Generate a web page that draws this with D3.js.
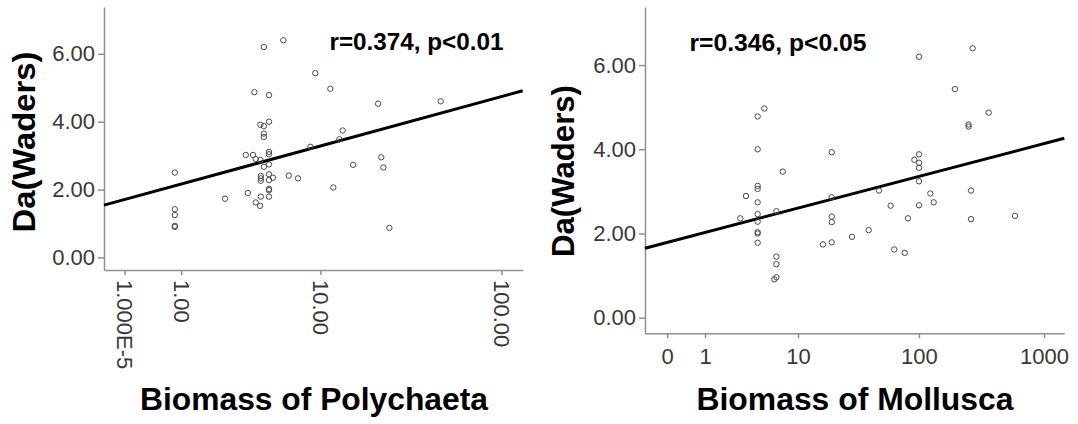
<!DOCTYPE html>
<html>
<head>
<meta charset="utf-8">
<script src="https://cdn.jsdelivr.net/npm/d3@7"></script>
<style>
  html, body { margin: 0; padding: 0; background: #fff; }
  svg { display: block; font-family: "Liberation Sans", Arial, sans-serif; }
  .tick text { fill: #383838; }
</style>
</head>
<body>
<svg id="chart" width="1078" height="424"></svg>
<script>
// ---------- data ----------
// Panel 1: Biomass of Polychaeta vs Da(Waders)
const polyBiomass = [0.85,0.85,0.85,0.85,0.85,2.42,3.41,3.82,3.52,3.98,4.25,4.30,3.90,4.50,5.98,4.86,4.27,4.50,4.86,4.50,4.50,3.98,4.27,4.50,4.86,4.86,4.86,4.86,4.30,4.30,4.30,4.86,5.15,4.86,4.86,4.86,6.46,7.36,8.73,9.33,11.42,11.88,12.87,13.45,15.41,21.28,22.17,22.77,24.59,46.97];
const polyDa      = [2.50,1.42,1.25,0.93,0.90,1.73,3.02,3.02,1.90,1.62,1.52,1.79,4.87,6.20,6.40,4.78,3.91,3.87,4.00,3.65,3.55,2.90,2.87,2.67,3.11,3.04,2.74,2.45,2.40,2.33,2.26,2.28,2.35,2.02,1.98,1.79,2.41,2.33,3.26,5.43,4.97,2.06,3.48,3.74,2.73,4.53,2.95,2.65,0.87,4.60];
const polyFit = [1.706, 1.514];            // intercept, slope on log10(biomass+1)
const polyTicks = [0.00001, 1, 10, 100];
const polyTickLabels = ["1.000E-5", "1.00", "10.00", "100.00"];
const polyStat = "r=0.374, p<0.01";

// Panel 2: Biomass of Mollusca vs Da(Waders)
const mollBiomass = [2.82,3.24,4.25,4.93,4.25,4.25,4.25,4.25,4.25,4.25,4.25,4.25,4.25,6.40,7.32,6.40,6.40,6.40,6.13,19.42,19.42,19.42,19.42,19.42,16.38,28.58,39.18,47.53,59.12,63.27,76.80,81.60,91.90,100.2,100.2,100.2,100.2,100.2,100.2,123.5,131.4,194.4,250.2,250.2,269.4,261.4,261.4,362.1,586.5];
const mollDa      = [2.36,2.89,4.78,4.97,4.00,3.13,3.06,2.74,2.46,2.28,2.03,2.00,1.78,2.53,3.47,1.45,1.27,0.96,0.91,3.93,2.86,2.40,2.27,1.79,1.74,1.92,2.08,3.02,2.66,1.62,1.54,2.36,3.75,3.88,3.68,3.56,3.24,2.67,6.20,2.95,2.74,5.43,4.59,4.54,6.40,3.02,2.34,4.87,2.42];
const mollFit = [1.788, 0.782];
const mollTicks = [0, 1, 10, 100, 1000];
const mollTickLabels = ["0", "1", "10", "100", "1000"];
const mollStat = "r=0.346, p<0.05";

const yTicks = [0, 2, 4, 6];
const yTickLabels = ["0.00", "2.00", "4.00", "6.00"];
const yLabel = "Da(Waders)";
const xTitles = ["Biomass of Polychaeta", "Biomass of Mollusca"];

// ---------- drawing ----------
const svg = d3.select("#chart");
const AXIS = "#8f8f8f";

function panel(cfg) {
  const g = svg.append("g");
  // x scale: log10(biomass + 1)
  const x = d3.scaleLog().domain(cfg.xDom).range([cfg.left, cfg.right]);
  const y = d3.scaleLinear().domain([-0.371, 7.38]).range([cfg.bottom, 7]);
  const X = v => x(v + 1);

  // y axis
  const ya = g.append("g").attr("transform", `translate(${cfg.left},0)`)
    .call(d3.axisLeft(y).tickValues(yTicks).tickFormat((d, i) => yTickLabels[i])
      .tickSize(6).tickPadding(3).tickSizeOuter(0));
  ya.selectAll("text").style("font-size", "22px");

  // x axis
  const xa = g.append("g").attr("transform", `translate(0,${cfg.bottom})`)
    .call(d3.axisBottom(x).tickValues(cfg.ticks.map(t => t + 1))
      .tickFormat((d, i) => cfg.tickLabels[i]).tickSize(5).tickPadding(cfg.rotate ? 5 : 10).tickSizeOuter(0));
  xa.selectAll("text").style("font-size", "22px");
  if (cfg.rotate) {
    xa.selectAll("text")
      .attr("transform", "rotate(90)")
      .attr("y", 0).attr("x", 10).attr("dy", "0.35em")
      .attr("text-anchor", "start");
  }
  [ya, xa].forEach(a => {
    a.select(".domain").attr("stroke", AXIS).attr("stroke-width", 1.5);
    a.selectAll(".tick line").attr("stroke", AXIS).attr("stroke-width", 1.5);
  });

  // regression line
  const [b0, b1] = cfg.fit;
  const lx = [cfg.xDom[0] - 1, cfg.xDom[1] - 1];
  g.append("line")
    .attr("x1", X(lx[0])).attr("y1", y(b0 + b1 * Math.log10(lx[0] + 1)))
    .attr("x2", X(lx[1])).attr("y2", y(b0 + b1 * Math.log10(lx[1] + 1)))
    .attr("stroke", "#000").attr("stroke-width", 3);

  // points
  g.selectAll("circle.pt").data(cfg.xs).enter().append("circle")
    .attr("class", "pt")
    .attr("cx", d => X(d)).attr("cy", (d, i) => y(cfg.ys[i]))
    .attr("r", 2.7).attr("fill", "none").attr("stroke", "#4a4a4a").attr("stroke-width", 1);

  // stat text
  g.append("text").attr("x", cfg.statX).attr("y", cfg.statY)
    .attr("font-size", 24).attr("font-weight", "bold").attr("fill", "#000")
    .attr("textLength", cfg.statW).attr("lengthAdjust", "spacingAndGlyphs")
    .text(cfg.stat);

  // y label
  g.append("text")
    .attr("transform", `translate(${cfg.ylX},${cfg.ylY}) rotate(-90)`)
    .attr("text-anchor", "middle").attr("dy", "0.35em")
    .attr("font-size", 31).attr("font-weight", "bold").attr("fill", "#000")
    .attr("textLength", cfg.ylW).attr("lengthAdjust", "spacingAndGlyphs")
    .text(yLabel);

  // x title
  g.append("text").attr("x", cfg.titleX).attr("y", 409.5)
    .attr("text-anchor", "middle")
    .attr("font-size", 31).attr("font-weight", "bold").attr("fill", "#000")
    .attr("textLength", cfg.titleW).attr("lengthAdjust", "spacingAndGlyphs")
    .text(cfg.title);
}

panel({
  left: 104, right: 522.7, bottom: 270,
  xDom: [Math.pow(10, -0.1095), Math.pow(10, 2.117)],
  ticks: polyTicks, tickLabels: polyTickLabels, rotate: true,
  fit: polyFit, xs: polyBiomass, ys: polyDa,
  stat: polyStat, statX: 329.5, statY: 49.5, statW: 174,
  ylX: 24, ylY: 142, ylW: 181,
  title: xTitles[0], titleX: 314, titleW: 348
});

panel({
  left: 645, right: 1064.3, bottom: 333.3,
  xDom: [Math.pow(10, -0.177), Math.pow(10, 3.162)],
  ticks: mollTicks, tickLabels: mollTickLabels, rotate: false,
  fit: mollFit, xs: mollBiomass, ys: mollDa,
  stat: mollStat, statX: 689.5, statY: 50.7, statW: 177,
  ylX: 563, ylY: 171, ylW: 172,
  title: xTitles[1], titleX: 855, titleW: 317
});
</script>
</body>
</html>
